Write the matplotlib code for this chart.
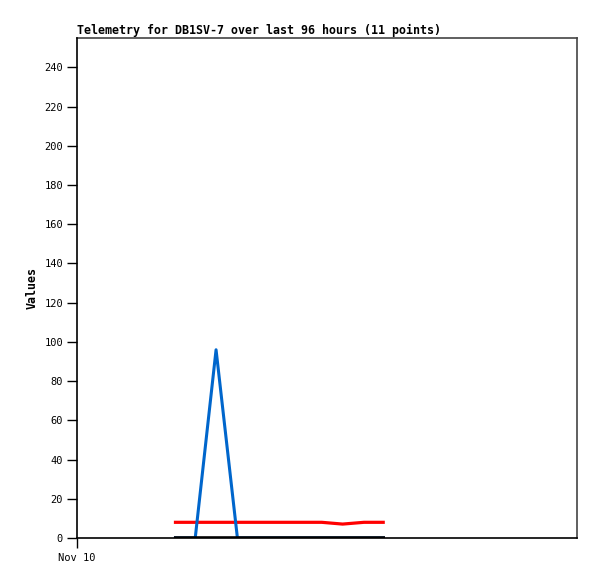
import matplotlib
matplotlib.use("Agg")
import matplotlib.pyplot as plt

# hours since Nov 10 00:00
hours = [18.6, 22.7, 26.7, 30.8, 34.8, 38.9, 42.9, 47.0, 51.0, 55.1, 59.1]
series_black = [0, 0, 0, 0, 0, 0, 0, 0, 0, 0, 0]
series_red = [8, 8, 8, 8, 8, 8, 8, 8, 7.1, 8, 8]
series_blue = [0, 0, 96, 0, 0, 0, 0, 0, 0, 0, 0]
x_ticks = [0]
x_tick_labels = ["Nov 10"]
y_ticks = list(range(0, 241, 20))

fig = plt.figure(figsize=(5.97, 5.79), dpi=100)
ax = fig.add_axes([77/597, 41/579, 500/597, 500/579])

mono = "DejaVu Sans Mono"
ax.plot(hours, series_red, color="#ff0000", lw=2.3, solid_capstyle="butt", zorder=3)
ax.plot(hours, series_blue, color="#0066cc", lw=2.2, solid_capstyle="butt", zorder=4)
ax.plot(hours, series_black, color="black", lw=2.6, solid_capstyle="butt", zorder=5)

ax.set_xlim(0, 96)
ax.set_ylim(0, 255)
ax.set_yticks(y_ticks)
ax.set_yticklabels([str(v) for v in y_ticks], fontfamily=mono, fontsize=7.5)
ax.set_xticks(x_ticks)
ax.set_xticklabels(x_tick_labels, fontfamily=mono, fontsize=7.5)
ax.tick_params(axis="both", direction="out", length=7, width=1, color="black", pad=4)
ax.tick_params(axis="y", pad=3)

for s in ["left", "bottom"]:
    ax.spines[s].set_color("black")
    ax.spines[s].set_linewidth(1.2)
    ax.spines[s].set_zorder(6)
for s in ["top", "right"]:
    ax.spines[s].set_color("#444444")
    ax.spines[s].set_linewidth(1.2)

ax.set_title("Telemetry for DB1SV-7 over last 96 hours (11 points)", loc="left",
             fontfamily=mono, fontweight="bold", fontsize=8.4, pad=3)
ax.set_ylabel("Values", fontfamily=mono, fontweight="bold", fontsize=8.4, labelpad=4)

fig.savefig("out.png", dpi=100)
